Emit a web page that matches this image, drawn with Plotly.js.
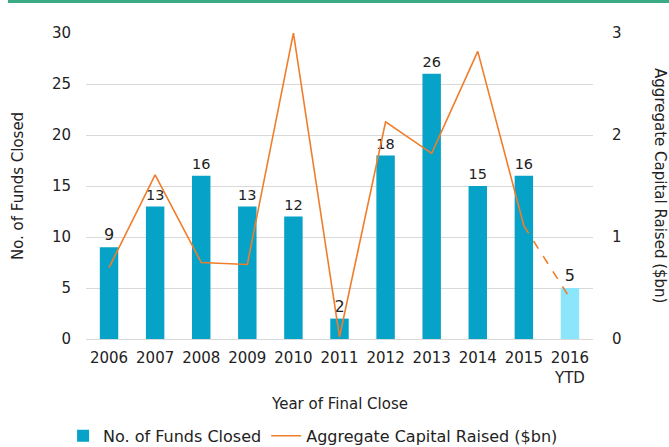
<!DOCTYPE html>
<html><head><meta charset="utf-8">
<script src="https://cdn.plot.ly/plotly-3.0.1.min.js"></script>
<style>html,body{margin:0;padding:0;background:#fff}#chart{width:669px;height:447px}</style>
</head><body><div id="chart"></div>
<script>
const years = ["2006","2007","2008","2009","2010","2011","2012","2013","2014","2015","2016<br>YTD"];
const fundsClosed = [9,13,16,13,12,2,18,26,15,16,5];
const capitalRaised = [0.70,1.61,0.75,0.73,3.0,0.02,2.13,1.82,2.82,1.11,0.40];
const barColors = years.map((y,i)=> i===years.length-1 ? "#8ce6fb" : "#06a2c7");
const n = years.length;

const font = "'DejaVu Sans', sans-serif";
const txt = "#222";
const data = [
  {type:"bar", x:years, y:fundsClosed, name:"No. of Funds Closed",
   marker:{color:barColors}, width:0.4,
   text:fundsClosed.map(String), textposition:"outside", cliponaxis:false,
   textfont:{size:16,color:txt,family:font}},
  {type:"scatter", mode:"lines", x:years.slice(0,n-1), y:capitalRaised.slice(0,n-1), yaxis:"y2",
   name:"Aggregate Capital Raised ($bn)", line:{color:"#f07d2b",width:1.6}},
  {type:"scatter", mode:"lines", x:years.slice(n-2), y:capitalRaised.slice(n-2), yaxis:"y2",
   showlegend:false, line:{color:"#f07d2b",width:1.6,dash:"dash"}}
];
const layout = {
  width:669, height:447,
  margin:{l:86,r:76,t:33,b:108},
  paper_bgcolor:"#fff", plot_bgcolor:"#fff",
  font:{family:font,size:15,color:txt},
  showlegend:true,
  legend:{orientation:"h", x:0.468, xanchor:"center", xref:"container", yref:"container", y:0.025, yanchor:"middle",
          font:{size:16,color:txt}, traceorder:"normal", itemwidth:30},
  xaxis:{type:"category", tickfont:{size:15,color:txt}, showgrid:false, zeroline:false, showline:false,
         ticks:"", ticklabelstandoff:8, automargin:false},
  yaxis:{range:[0,30], dtick:5, gridcolor:"#d9d9d9", gridwidth:1, zeroline:true, zerolinecolor:"#d9d9d9",
         tickfont:{size:15,color:txt}, ticks:"", ticklabelstandoff:14, automargin:false},
  yaxis2:{range:[0,3], dtick:1, overlaying:"y", side:"right", showgrid:false, zeroline:false,
          tickfont:{size:15,color:txt}, ticks:"", ticklabelstandoff:18, automargin:false},
  annotations:[
    {text:"Aggregate Capital Raised ($bn)", textangle:90, xref:"paper", yref:"paper",
     x:1.132, y:0.5, xanchor:"center", yanchor:"middle", showarrow:false, font:{size:15,color:txt,family:font}},
    {text:"No. of Funds Closed", textangle:-90, xref:"paper", yref:"paper",
     x:-0.134, y:0.5, xanchor:"center", yanchor:"middle", showarrow:false, font:{size:15,color:txt,family:font}},
    {text:"Year of Final Close", xref:"paper", yref:"paper",
     x:0.5, y:-0.212, xanchor:"center", yanchor:"middle", showarrow:false, font:{size:15,color:txt,family:font}}
  ],
  shapes:[{type:"line", xref:"paper", yref:"paper", x0:-0.154, x1:1.15, y0:1.103, y1:1.103,
           line:{color:"#3aab86", width:3}}]
};
Plotly.newPlot("chart", data, layout, {displayModeBar:false, staticPlot:true});
</script></body></html>
